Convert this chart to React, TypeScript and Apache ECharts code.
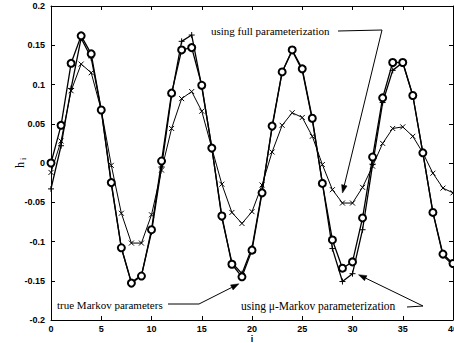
import React, { useEffect, useRef } from "react";
import * as echarts from "echarts";

// h_i values for i = 0..40
const trueMarkov = [
  0.0, 0.048, 0.127, 0.162, 0.139, 0.0675, -0.025, -0.108, -0.153, -0.144, -0.085,
  0.0025, 0.089, 0.144, 0.147, 0.099, 0.019, -0.0675, -0.129, -0.145, -0.111,
  -0.038, 0.047, 0.116, 0.144, 0.12, 0.057, -0.026, -0.098, -0.134, -0.126,
  -0.07, 0.0076, 0.083, 0.128, 0.128, 0.086, 0.013, -0.063, -0.116, -0.128,
];
const muMarkov = [
  -0.033, 0.022, 0.095, 0.159, 0.134, 0.0675, -0.027, -0.108, -0.152, -0.143, -0.088,
  -0.005, 0.086, 0.155, 0.163, 0.097, 0.02, -0.07, -0.127, -0.141, -0.108,
  -0.036, 0.045, 0.116, 0.143, 0.118, 0.055, -0.025, -0.109, -0.151, -0.141,
  -0.085, -0.002, 0.077, 0.118, 0.128, 0.086, 0.013, -0.063, -0.118, -0.13,
];
const fullParam = [
  -0.012, 0.028, 0.092, 0.126, 0.115, 0.0675, -0.003, -0.064, -0.102, -0.102, -0.066,
  -0.009, 0.044, 0.082, 0.091, 0.066, 0.019, -0.027, -0.063, -0.077, -0.062,
  -0.028, 0.014, 0.048, 0.064, 0.058, 0.034, -0.002, -0.034, -0.051, -0.051,
  -0.031, -0.004, 0.025, 0.044, 0.046, 0.034, 0.013, -0.013, -0.032, -0.038,
];

const labelTrue = "true Markov parameters";
const labelMu = "using \u03bc-Markov parameterization";
const labelFull = "using full parameterization";
const xName = "i";
const yNameMain = "h";
const yNameSub = "i";

const X_MIN = 0, X_MAX = 40, X_STEP = 5;
const Y_MIN = -0.2, Y_MAX = 0.2, Y_STEP = 0.05;

const toPairs = (arr: number[]) => arr.map((v, i) => [i, v]);

function arrow(points: number[][], headLen = 8, headW = 2.8) {
  const n = points.length;
  const tip = points[n - 1];
  const prev = points[n - 2];
  const dx = tip[0] - prev[0];
  const dy = tip[1] - prev[1];
  const len = Math.hypot(dx, dy) || 1;
  const ux = dx / len, uy = dy / len;
  const bx = tip[0] - ux * headLen, by = tip[1] - uy * headLen;
  const nx = -uy, ny = ux;
  return [
    {
      type: "polyline",
      silent: true,
      shape: { points: [...points.slice(0, n - 1), [bx, by]] },
      style: { stroke: "#000", lineWidth: 1, fill: null },
      z: 100,
    },
    {
      type: "polygon",
      silent: true,
      shape: {
        points: [tip, [bx + nx * headW, by + ny * headW], [bx - nx * headW, by - ny * headW]],
      },
      style: { fill: "#000", stroke: "#000", lineWidth: 0.5 },
      z: 100,
    },
  ];
}

export default function App() {
  const ref = useRef<HTMLDivElement>(null);
  useEffect(() => {
    const chart = echarts.init(ref.current!, null, { renderer: "svg" });
    const axisFont = { fontFamily: "Liberation Sans", fontWeight: "bold" as const, fontSize: 9, color: "#000" };
    const fmtY = (v: number) => String(parseFloat(v.toFixed(2)));
    const plus = "path://M5,0L5,10M0,5L10,5";
    const cross = "path://M0,0L10,10M10,0L0,10";
    const line = { onZero: false, lineStyle: { color: "#000", width: 1 } };
    const tick = { inside: true, length: 4, lineStyle: { color: "#000" } };
    chart.setOption({
      animation: false,
      backgroundColor: "#fff",
      grid: { left: 51, right: 1, top: 6, bottom: 23, containLabel: false, outerBoundsMode: "none" },
      xAxis: [
        {
          type: "value", min: X_MIN, max: X_MAX, interval: X_STEP,
          axisLine: line, axisTick: tick,
          axisLabel: { ...axisFont, margin: 4, alignMaxLabel: "center", alignMinLabel: "center" },
          splitLine: { show: false },
        },
        {
          type: "value", position: "top", min: X_MIN, max: X_MAX, interval: X_STEP,
          axisLine: line, axisTick: tick,
          axisLabel: { show: false }, splitLine: { show: false },
        },
      ],
      yAxis: [
        {
          type: "value", min: Y_MIN, max: Y_MAX, interval: Y_STEP,
          axisLine: line, axisTick: tick,
          axisLabel: { ...axisFont, margin: 6, formatter: fmtY },
          splitLine: { show: false },
        },
        {
          type: "value", position: "right", min: Y_MIN, max: Y_MAX, interval: Y_STEP,
          axisLine: line, axisTick: tick,
          axisLabel: { show: false }, splitLine: { show: false },
        },
      ],
      series: [
        {
          name: labelFull, type: "line", data: toPairs(fullParam),
          symbol: cross, symbolSize: 5,
          lineStyle: { color: "#000", width: 1 },
          itemStyle: { color: "#000", borderColor: "#000", borderWidth: 1 },
          z: 2,
        },
        {
          name: labelMu, type: "line", data: toPairs(muMarkov),
          symbol: plus, symbolSize: 6,
          lineStyle: { color: "#000", width: 1.3 },
          itemStyle: { color: "#000", borderColor: "#000", borderWidth: 1 },
          z: 3,
        },
        {
          name: labelTrue, type: "line", data: toPairs(trueMarkov),
          symbol: "emptyCircle", symbolSize: 7,
          lineStyle: { color: "#000", width: 1.3 },
          itemStyle: { color: "#000", borderColor: "#000", borderWidth: 1 },
          z: 4,
        },
      ],
    });

    const px = (x: number, y: number) =>
      chart.convertToPixel({ xAxisIndex: 0, yAxisIndex: 0 }, [x, y]) as number[];
    const pTrue = px(19, trueMarkov[19]);
    const pMu = px(30, muMarkov[30]);
    const pFull = px(29, fullParam[29]);
    const pMid = px((X_MIN + X_MAX) / 2, (Y_MIN + Y_MAX) / 2);
    const textStyle = { fontFamily: "Liberation Serif", fill: "#000" };

    chart.setOption({
      graphic: [
        { type: "text", x: 57, y: 305, silent: true, style: { ...textStyle, text: labelTrue, fontSize: 11, verticalAlign: "middle" }, z: 100 },
        { type: "text", x: 241, y: 306, silent: true, style: { ...textStyle, text: labelMu, fontSize: 11.5, verticalAlign: "middle" }, z: 100 },
        { type: "text", x: 211, y: 31, silent: true, style: { ...textStyle, text: labelFull, fontSize: 11, verticalAlign: "middle" }, z: 100 },
        {
          type: "text", x: pMid[0], y: 339, silent: true,
          style: { fontFamily: "Liberation Sans", fontWeight: "bold", fontSize: 9, fill: "#000", text: xName, align: "center", verticalAlign: "middle" },
        },
        {
          type: "group", x: 20, y: pMid[1] + 2, rotation: Math.PI / 2, silent: true,
          children: [
            { type: "text", x: 0, y: 0, style: { ...textStyle, text: yNameMain, fontSize: 12, align: "center", verticalAlign: "middle" } },
            { type: "text", x: 5, y: 3, style: { ...textStyle, text: yNameSub, fontSize: 8, align: "left", verticalAlign: "middle" } },
          ],
        },
        ...arrow([[168, 304], [199, 304], [pTrue[0] - 3, pTrue[1] + 7]]),
        ...arrow([[407, 307], [423, 306], [pMu[0] + 6, pMu[1] + 1]]),
        ...arrow([[338, 31], [382, 30], [pFull[0], pFull[1] - 10]]),
      ],
    });
    return () => chart.dispose();
  }, []);
  return (
    <div
      ref={ref}
      style={{ position: "absolute", left: 0, top: 0, width: 454, height: 343, background: "#fff" }}
    />
  );
}
